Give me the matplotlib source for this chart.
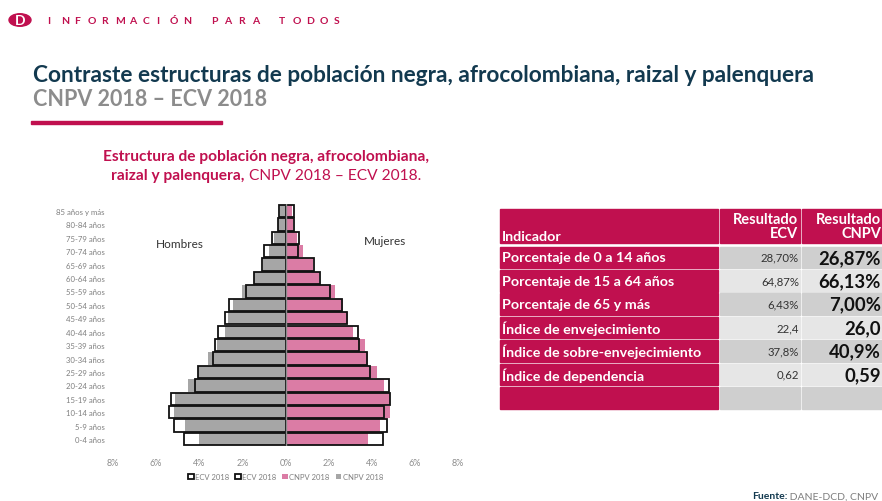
import numpy as np
import matplotlib.pyplot as plt
from matplotlib.patches import Rectangle, Circle

W, H = 882, 502

# Datos de la pirámide (%), de 0-4 años a 85 años y más
edades = ['0-4 años', '5-9 años', '10-14 años', '15-19 años', '20-24 años', '25-29 años',
          '30-34 años', '35-39 años', '40-44 años', '45-49 años', '50-54 años', '55-59 años',
          '60-64 años', '65-69 años', '70-74 años', '75-79 años', '80-84 años', '85 años y más']
hombres_cnpv = [4.03, 4.66, 5.16, 5.13, 4.50, 4.05, 3.59, 3.20, 2.81, 2.66, 2.42, 2.03,
                1.44, 1.05, 0.75, 0.55, 0.34, 0.27]
hombres_ecv = [4.69, 5.16, 5.38, 5.31, 4.22, 4.06, 3.38, 3.28, 3.13, 2.81, 2.63, 1.84,
               1.48, 1.09, 1.00, 0.63, 0.34, 0.30]
mujeres_cnpv = [3.83, 4.38, 4.84, 4.84, 4.56, 4.25, 3.83, 3.67, 3.13, 2.89, 2.66, 2.31,
                1.56, 1.28, 0.80, 0.55, 0.34, 0.31]
mujeres_ecv = [4.50, 4.73, 4.58, 4.86, 4.81, 3.94, 3.78, 3.41, 3.36, 2.84, 2.63, 2.06,
               1.61, 1.34, 0.60, 0.63, 0.39, 0.39]
xticks = [-8, -6, -4, -2, 0, 2, 4, 6, 8]

# Tabla de indicadores
indicadores = ['Porcentaje de 0 a 14 años', 'Porcentaje de 15 a 64 años', 'Porcentaje de 65 y más',
               'Índice de envejecimiento', 'Índice de sobre-envejecimiento', 'Índice de dependencia']
res_ecv = ['28,70%', '64,87%', '6,43%', '22,4', '37,8%', '0,62']
res_cnpv = ['26,87%', '66,13%', '7,00%', '26,0', '40,9%', '0,59']

crimson = '#C0104F'
rosa = '#DB7CA5'
gris = '#A6A6A6'
navy = '#12394F'

plt.rcParams['font.family'] = ['Lato', 'DejaVu Sans']

fig = plt.figure(figsize=(W / 100, H / 100), dpi=100)


def fx(px):
    return px / W


def fy(py):
    return 1 - py / H


# Encabezado
fig.patches.append(Circle((fx(20), fy(21)), 11 / W, transform=fig.transFigure,
                          color=crimson))
fig.text(fx(20), fy(21), 'D', color='white', fontsize=10, fontweight='bold',
         ha='center', va='center')
for i, c in enumerate('INFORMACIÓN PARA TODOS'):
    fig.text(fx(47 + i * 13.65), fy(22), c, color=crimson, fontsize=7.5,
             fontweight='bold', ha='left', va='center')

fig.text(fx(33), fy(75), 'Contraste estructuras de población negra, afrocolombiana, raizal y palenquera',
         color=navy, fontsize=16.3, fontweight='bold', va='center')
fig.text(fx(33), fy(100), 'CNPV 2018 – ECV 2018', color='#8C8C8C', fontsize=15.5,
         fontweight='bold', va='center')
fig.patches.append(Rectangle((fx(31), fy(125)), fx(191), 3 / H, transform=fig.transFigure,
                             color=crimson))

fig.text(fx(266), fy(157), 'Estructura de población negra, afrocolombiana,', color=crimson,
         fontsize=11.2, fontweight='bold', ha='center', va='center')
t1 = fig.text(fx(100), fy(176), 'raizal y palenquera,', color=crimson, fontsize=11.2,
              fontweight='bold', ha='left', va='center')
fig.canvas.draw()
ancho1 = t1.get_window_extent().width
t2 = fig.text(0, fy(176), ' CNPV 2018 – ECV 2018.', color=crimson, fontsize=11.2,
              ha='left', va='center')
ancho2 = t2.get_window_extent().width
x0 = 266 - (ancho1 + ancho2) / 2
t1.set_x(fx(x0))
t2.set_x(fx(x0 + ancho1))

# Pirámide
ax = fig.add_axes([fx(113), fy(446.7), fx(458 - 113), (446.7 - 205.3) / H])
y = np.arange(len(edades))
ax.barh(y, -np.array(hombres_cnpv), height=0.92, color=gris, label='CNPV 2018')
ax.barh(y, mujeres_cnpv, height=0.92, color=rosa, label='CNPV 2018')
ax.barh(y, -np.array(hombres_ecv), height=0.92, facecolor='none', edgecolor='#111111',
        linewidth=1.3, label='ECV 2018')
ax.barh(y, mujeres_ecv, height=0.92, facecolor='none', edgecolor='#111111',
        linewidth=1.3, label='ECV 2018')
ax.axvline(0, color='#8C8C8C', linewidth=1)
ax.set_xlim(-8, 8)
ax.set_ylim(-0.5, len(edades) - 0.5)
ax.set_xticks(xticks)
ax.set_xticklabels([f'{abs(v)}%' for v in xticks])
ax.set_yticks(y)
ax.set_yticklabels(edades)
ax.tick_params(axis='y', length=0, labelsize=5.6, labelcolor='#7F7F7F', pad=6)
ax.tick_params(axis='x', length=0, labelsize=6.5, labelcolor='#8C8C8C', pad=9)
for s in ax.spines.values():
    s.set_visible(False)
ax.text(-4.9, 14.6, 'Hombres', fontsize=8.5, color='#333333', ha='center', va='center')
ax.text(4.6, 14.8, 'Mujeres', fontsize=8.5, color='#333333', ha='center', va='center')

h, l = ax.get_legend_handles_labels()
ax.legend([h[2], h[3], h[1], h[0]], [l[2], l[3], l[1], l[0]], loc='upper center',
          bbox_to_anchor=(0.5, -0.085), ncol=4, frameon=False, fontsize=5.5,
          handlelength=0.7, handleheight=0.7, columnspacing=0.8, handletextpad=0.2,
          labelcolor='#7F7F7F')


# Tabla
def rect(x1, y1, x2, y2, color):
    fig.patches.append(Rectangle((fx(x1), fy(y2)), fx(x2 - x1), (y2 - y1) / H,
                                 transform=fig.transFigure, color=color))


rect(500, 210, 718, 244, crimson)
rect(720, 210, 800, 244, crimson)
rect(802, 210, 882, 244, crimson)
fig.text(fx(502), fy(237), 'Indicador', color='white', fontsize=10.3, fontweight='bold',
         va='center')
fig.text(fx(798), fy(227), 'Resultado\nECV', color='white', fontsize=10.5, fontweight='bold',
         ha='right', va='center', linespacing=0.95)
fig.text(fx(881), fy(227), 'Resultado\nCNPV', color='white', fontsize=10.5, fontweight='bold',
         ha='right', va='center', linespacing=0.95)

top = 247.5
alto = 21.6
paso = 23.4
for i in range(len(indicadores) + 1):
    y1 = top + i * paso
    y2 = y1 + alto
    fondo = '#CFCFCF' if i % 2 == 0 else '#E6E6E6'
    rect(500, y1, 718, y2, crimson)
    rect(720, y1, 800, y2, fondo)
    rect(802, y1, 882, y2, fondo)
    if i < len(indicadores):
        yc = fy((y1 + y2) / 2)
        fig.text(fx(502), yc, indicadores[i], color='white', fontsize=10.3,
                 fontweight='bold', va='center')
        fig.text(fx(799), yc, res_ecv[i], color='#333333', fontsize=8.2,
                 ha='right', va='center')
        fig.text(fx(881), yc, res_cnpv[i], color='#111111', fontsize=13.3,
                 fontweight='bold', ha='right', va='center')

# Fuente
t3 = fig.text(fx(752), fy(497), 'Fuente:', color=navy, fontsize=7.5, fontweight='bold',
              va='center')
fig.canvas.draw()
w3 = t3.get_window_extent().width
fig.text(fx(752 + w3), fy(497), ' DANE-DCD, CNPV', color='#7F7F7F', fontsize=7.5,
         va='center')

fig.savefig('out.png', dpi=100)
